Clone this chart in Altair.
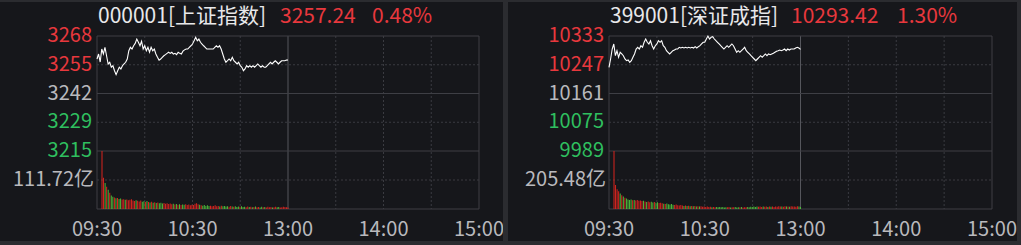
import altair as alt
import pandas as pd

# ---------------- data ----------------
time_ticks = [0, 60, 120, 180, 240]
time_labels = ["09:30", "10:30", "13:00", "14:00", "15:00"]
grid_minutes = [0, 30, 60, 90, 120, 150, 180, 210, 240]
solid_minutes = [0, 120, 240]

sh_name = "000001[上证指数]"
sh_last = "3257.24"
sh_pct = "0.48%"
sh_pre_close = 3241.8
sh_price_ticks = [3268.3, 3255.05, 3241.8, 3228.55, 3215.3]
sh_price_labels = ["3268", "3255", "3242", "3229", "3215"]
sh_vol_mid = 111.72
sh_vol_label = "111.72亿"

sh_price = [
    3257.7, 3260.0, 3256.3, 3262.3, 3260.0, 3263.1, 3259.2, 3255.4, 3256.2, 3253.9,
    3254.6, 3252.3, 3250.5, 3252.3, 3253.9, 3253.1, 3254.6, 3255.4, 3256.2, 3257.7,
    3261.5, 3263.1, 3262.3, 3263.8, 3264.9, 3266.9, 3265.4, 3263.8, 3265.9, 3262.3,
    3263.8, 3261.5, 3263.1, 3260.8, 3263.1, 3261.5, 3262.3, 3260.0, 3258.5, 3257.2,
    3257.7, 3258.5, 3259.2, 3259.7, 3260.3, 3260.8, 3260.3, 3260.8, 3260.0, 3260.3,
    3259.7, 3260.8, 3260.3, 3260.0, 3261.3, 3261.9, 3262.3, 3262.3, 3263.1, 3263.8,
    3264.6,
    3266.1, 3267.7, 3266.1, 3266.9, 3265.4, 3264.6, 3263.8, 3263.1, 3262.3, 3262.3,
    3262.3, 3262.3, 3262.3, 3263.1, 3263.8, 3263.1, 3263.8, 3262.3, 3260.0, 3257.7,
    3256.2, 3256.9, 3257.7, 3256.9, 3258.5, 3256.9, 3256.2, 3255.4, 3256.2, 3254.6,
    3253.9, 3252.3, 3253.1, 3254.6, 3253.9, 3254.6, 3253.9, 3254.6, 3253.9, 3254.6,
    3255.4, 3254.6, 3253.9, 3254.6, 3253.9, 3253.9, 3254.6, 3255.4, 3256.2, 3255.4,
    3256.2, 3256.9, 3256.2, 3255.4, 3256.2, 3256.9, 3256.9, 3256.9, 3257.2, 3257.24,
]
sh_vol = [
    223, 120, 100, 86, 74, 63, 52, 47, 44, 41,
    42, 39, 40, 37, 38, 36, 37, 34, 36, 38,
    33, 31, 34, 32, 29, 33, 28, 30, 27, 31,
    27, 25, 28, 24, 26, 23, 25, 22, 24, 21,
    23, 20, 22, 19, 21, 18, 20, 17, 19, 16,
    18, 15, 17, 16, 18, 15, 17, 14, 16, 15,
    20, 22, 18, 16, 14, 13, 15, 12, 14, 12,
    13, 11, 12, 14, 11, 12, 10, 13, 11, 12,
    10, 11, 9, 12, 10, 9, 11, 8, 10, 9,
    11, 8, 9, 7, 10, 8, 9, 7, 8, 10,
    7, 8, 6, 9, 7, 8, 6, 9, 7, 8,
    6, 7, 9, 7, 8, 6, 7, 9, 8, 7,
    6,
]

sz_name = "399001[深证成指]"
sz_last = "10293.42"
sz_pct = "1.30%"
sz_pre_close = 10161.3
sz_price_ticks = [10333.3, 10247.3, 10161.3, 10075.3, 9989.3]
sz_price_labels = ["10333", "10247", "10161", "10075", "9989"]
sz_vol_mid = 205.48
sz_vol_label = "205.48亿"

sz_price = [
    10239.7, 10264.5, 10294.4, 10309.4, 10274.4, 10289.3, 10269.6, 10284.5, 10279.5, 10274.4,
    10264.5, 10259.4, 10261.5, 10254.6, 10259.4,
    10269.6, 10279.5, 10294.4, 10299.5, 10294.4, 10304.3, 10299.5, 10314.5, 10324.3, 10314.5,
    10309.4, 10319.2, 10304.3, 10294.4, 10304.3, 10309.4, 10319.2, 10314.5, 10319.2, 10304.3,
    10299.5, 10289.3, 10284.5, 10279.5, 10284.5, 10289.3, 10291.4, 10294.4, 10294.4, 10299.5,
    10297.4, 10299.5, 10297.4, 10299.5, 10297.4, 10299.5, 10297.4, 10299.5, 10297.4, 10301.3,
    10297.4, 10301.3, 10304.3, 10309.4, 10314.5,
    10314.5, 10324.3, 10333.0, 10324.3, 10329.4, 10331.2, 10324.3, 10319.2, 10314.5, 10309.4,
    10304.3, 10299.5, 10294.4, 10299.5, 10304.3, 10299.5, 10304.3, 10309.4, 10304.3, 10294.4,
    10284.5, 10289.3, 10284.5, 10289.3, 10294.4, 10299.5, 10289.3, 10284.5, 10279.5, 10274.4,
    10269.6, 10264.5, 10259.4, 10264.5, 10269.6, 10274.4, 10269.6, 10274.4, 10279.5, 10274.4,
    10279.5, 10277.4, 10279.5, 10281.6, 10284.5, 10287.5, 10289.3, 10291.4, 10289.3, 10291.4,
    10294.4, 10289.3, 10294.4, 10291.4, 10294.4, 10294.4, 10294.4, 10297.4, 10299.5, 10297.4,
    10293.42,
]
sz_vol = [
    411, 170, 140, 125, 110, 98, 88, 80, 74, 68,
    64, 67, 62, 64, 60, 63, 58, 61, 56, 59,
    54, 50, 53, 48, 51, 46, 49, 44, 47, 42,
    45, 40, 38, 36, 39, 34, 32, 35, 30, 28,
    31, 27, 25, 28, 24, 22, 25, 21, 23, 20,
    22, 19, 21, 18, 20, 17, 19, 16, 18, 15,
    17, 14, 16, 13, 15, 12, 14, 13, 15, 12,
    14, 11, 13, 12, 14, 11, 13, 12, 14, 11,
    13, 12, 14, 11, 13, 12, 15, 13, 16, 14,
    17, 15, 18, 16, 17, 15, 18, 16, 17, 15,
    18, 16, 17, 15, 18, 16, 19, 17, 18, 16,
    19, 17, 18, 16, 19, 17, 18, 16, 19, 17,
    15,
]

# ---------------- style ----------------
BG = "#2b2c30"
PANEL = "#16171b"
GRID_SOLID = "#3e3f45"
GRID_DASH = "#3a3b41"
MID_LINE = "#55565c"
RED = "#e8383d"
GREEN = "#2fbf5f"
GRAY = "#b9b9bd"
WHITE = "#e8e8ea"
BAR_RED = "#d8241f"
BAR_GREEN = "#4cb83a"
FONT = "Noto Sans CJK SC"
FS = 20
TFS = 21

Y_TOP, Y_PRICE_BOT, Y_VOL_BOT = 36, 151, 209


def panel(x0, x1, name, last, pct, title_x, pre, pticks, plabels, prices, vols,
          vmid, vlabel, label_right):
    xs = alt.Scale(domain=[0, 240], range=[x0, x1])
    ps = alt.Scale(domain=[pticks[-1], pticks[0]], range=[Y_PRICE_BOT, Y_TOP])
    vs = alt.Scale(domain=[0, 2 * vmid], range=[Y_VOL_BOT, Y_PRICE_BOT])

    n = len(prices)
    df = pd.DataFrame({"m": list(range(n)), "p": prices, "v": vols[:n]})
    prev = [pre] + prices[:-1]
    df["dir"] = ["up" if p >= q else "down" for p, q in zip(prices, prev)]

    layers = []
    # vertical grid
    dashed_m = pd.DataFrame({"m": [m for m in grid_minutes if m not in solid_minutes]})
    layers.append(alt.Chart(dashed_m).mark_rule(color=GRID_DASH, strokeDash=[2, 2], strokeWidth=1).encode(
        x=alt.X("m:Q", scale=xs, axis=None), y=alt.value(Y_TOP), y2=alt.value(Y_VOL_BOT)))
    edge_m = pd.DataFrame({"m": [solid_minutes[0], solid_minutes[2]]})
    layers.append(alt.Chart(edge_m).mark_rule(color=GRID_SOLID, strokeWidth=1).encode(
        x=alt.X("m:Q", scale=xs, axis=None), y=alt.value(Y_TOP), y2=alt.value(Y_VOL_BOT)))
    mid_m = pd.DataFrame({"m": [solid_minutes[1]]})
    layers.append(alt.Chart(mid_m).mark_rule(color=MID_LINE, strokeWidth=1).encode(
        x=alt.X("m:Q", scale=xs, axis=None), y=alt.value(Y_TOP), y2=alt.value(Y_VOL_BOT)))
    # horizontal price grid
    solid_p = pd.DataFrame({"p": [pticks[0], pticks[2], pticks[4]]})
    dash_p = pd.DataFrame({"p": [pticks[1], pticks[3]]})
    layers.append(alt.Chart(dash_p).mark_rule(color=GRID_DASH, strokeDash=[2, 2], strokeWidth=1).encode(
        y=alt.Y("p:Q", scale=ps, axis=None), x=alt.value(x0), x2=alt.value(x1)))
    layers.append(alt.Chart(solid_p).mark_rule(color=GRID_SOLID, strokeWidth=1).encode(
        y=alt.Y("p:Q", scale=ps, axis=None), x=alt.value(x0), x2=alt.value(x1)))
    # horizontal volume grid
    layers.append(alt.Chart(pd.DataFrame({"v": [vmid]})).mark_rule(
        color=GRID_DASH, strokeDash=[2, 2], strokeWidth=1).encode(
        y=alt.Y("v:Q", scale=vs, axis=None), x=alt.value(x0), x2=alt.value(x1)))
    layers.append(alt.Chart(pd.DataFrame({"v": [0]})).mark_rule(color=GRID_SOLID, strokeWidth=1).encode(
        y=alt.Y("v:Q", scale=vs, axis=None), x=alt.value(x0), x2=alt.value(x1)))

    # volume bars
    layers.append(alt.Chart(df).mark_bar(size=1.0).encode(
        x=alt.X("m:Q", scale=xs, axis=None),
        y=alt.Y("v:Q", scale=vs, axis=None),
        color=alt.Color("dir:N", scale=alt.Scale(domain=["up", "down"], range=[BAR_RED, BAR_GREEN]),
                        legend=None)))
    # price line
    layers.append(alt.Chart(df).mark_line(color="#ffffff", strokeWidth=1.1).encode(
        x=alt.X("m:Q", scale=xs, axis=None),
        y=alt.Y("p:Q", scale=ps, axis=None)))

    # price labels
    tone = ["up" if t > pre + 1e-6 else ("flat" if abs(t - pre) < 1e-6 else "down") for t in pticks]
    lab = pd.DataFrame({"p": pticks, "t": plabels, "tone": tone})
    layers.append(alt.Chart(lab).mark_text(align="right", baseline="middle", font=FONT, fontSize=FS).encode(
        y=alt.Y("p:Q", scale=ps, axis=None), x=alt.value(label_right), text="t:N",
        color=alt.Color("tone:N", scale=alt.Scale(domain=["up", "flat", "down"], range=[RED, GRAY, GREEN]),
                        legend=None)))
    # volume label
    layers.append(alt.Chart(pd.DataFrame({"v": [vmid], "t": [vlabel]})).mark_text(
        align="right", baseline="middle", font=FONT, fontSize=FS, color=GRAY).encode(
        y=alt.Y("v:Q", scale=vs, axis=None), x=alt.value(label_right + 2), text="t:N"))
    # time labels
    tl = pd.DataFrame({"m": time_ticks, "t": time_labels})
    layers.append(alt.Chart(tl).mark_text(align="center", baseline="middle", font=FONT, fontSize=FS,
                                          color=GRAY).encode(
        x=alt.X("m:Q", scale=xs, axis=None), y=alt.value(230), text="t:N"))
    # title pieces
    layers.append(alt.Chart(pd.DataFrame({"t": [name]})).mark_text(
        align="left", baseline="middle", font=FONT, fontSize=TFS, color=WHITE).encode(
        x=alt.value(title_x[0]), y=alt.value(17), text="t:N"))
    layers.append(alt.Chart(pd.DataFrame({"t": [last]})).mark_text(
        align="left", baseline="middle", font=FONT, fontSize=TFS, color=RED).encode(
        x=alt.value(title_x[1]), y=alt.value(17), text="t:N"))
    layers.append(alt.Chart(pd.DataFrame({"t": [pct]})).mark_text(
        align="left", baseline="middle", font=FONT, fontSize=TFS, color=RED).encode(
        x=alt.value(title_x[2]), y=alt.value(17), text="t:N"))
    return layers


frame = pd.DataFrame({"k": ["a"]})
bg_layers = [
    alt.Chart(frame).mark_rect(color=PANEL).encode(
        x=alt.value(0), x2=alt.value(503), y=alt.value(2), y2=alt.value(241)),
    alt.Chart(frame).mark_rect(color=PANEL).encode(
        x=alt.value(508), x2=alt.value(1017), y=alt.value(2), y2=alt.value(241)),
]
# strips drawn last so that labels are clipped at the panel edge
fg_layers = [
    alt.Chart(frame).mark_rect(color=BG).encode(
        x=alt.value(503), x2=alt.value(508), y=alt.value(0), y2=alt.value(245)),
    alt.Chart(frame).mark_rect(color=BG).encode(
        x=alt.value(1017), x2=alt.value(1021), y=alt.value(0), y2=alt.value(245)),
]

left = panel(97, 479, sh_name, sh_last, sh_pct, [98, 280, 372], sh_pre_close, sh_price_ticks,
             sh_price_labels, sh_price, sh_vol, sh_vol_mid, sh_vol_label, 92)
right = panel(609, 992, sz_name, sz_last, sz_pct, [610, 791, 897], sz_pre_close, sz_price_ticks,
              sz_price_labels, sz_price, sz_vol, sz_vol_mid, sz_vol_label, 604)

chart = alt.layer(*(bg_layers + left + right + fg_layers)).resolve_scale(
    x="independent", y="independent", color="independent"
).properties(
    width=1021, height=245, background=BG, padding=0,
    autosize=alt.AutoSizeParams(type="none"),
).configure_view(stroke=None)

chart.save("out.html", embed_options={"renderer": "svg", "actions": False})
